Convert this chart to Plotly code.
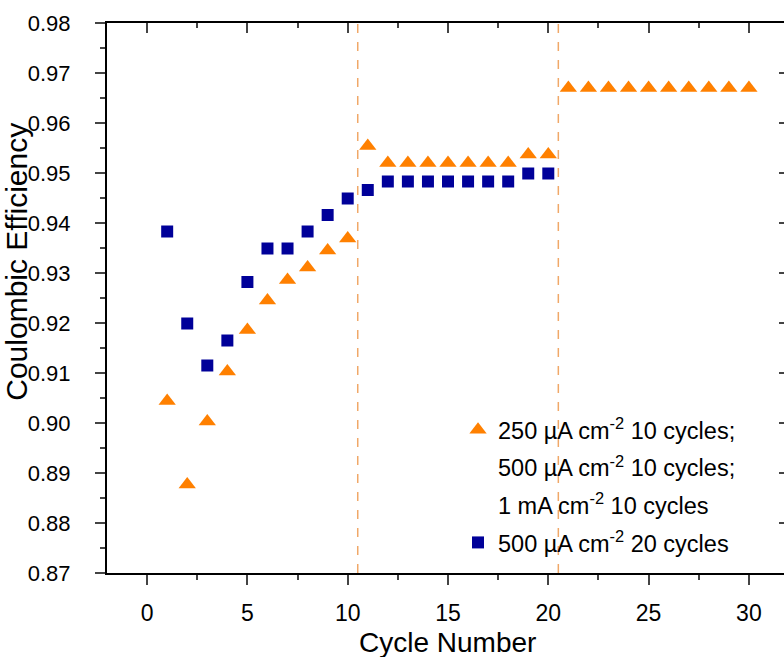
import plotly.graph_objects as go

cycles_a = list(range(1, 31))
ce_a = [0.9044, 0.8877, 0.9003, 0.9103, 0.9186, 0.9245, 0.9286, 0.9311, 0.9345, 0.9369,
        0.9554, 0.9520, 0.9520, 0.9520, 0.9520, 0.9520, 0.9520, 0.9520, 0.9537, 0.9537,
        0.9670, 0.9670, 0.9670, 0.9670, 0.9670, 0.9670, 0.9670, 0.9670, 0.9670, 0.9670]
cycles_b = list(range(1, 21))
ce_b = [0.9383, 0.9199, 0.9115, 0.9165, 0.9282, 0.9349, 0.9349, 0.9383, 0.9416, 0.9449,
        0.9466, 0.9483, 0.9483, 0.9483, 0.9483, 0.9483, 0.9483, 0.9483, 0.9499, 0.9499]
legend_a = ["250 µA cm<sup>-2</sup> 10 cycles;",
            "500 µA cm<sup>-2</sup> 10 cycles;",
            "1 mA cm<sup>-2</sup> 10 cycles"]
name_b = "500 µA cm<sup>-2</sup> 20 cycles"
dividers = [10.5, 20.5]
x_title = "Cycle Number"
y_title = "Coulombic Efficiency"

FONT = "Arial, Liberation Sans, sans-serif"
ORANGE = "#FF8000"
NAVY = "#000099"

fig = go.Figure()
fig.add_trace(go.Scatter(x=cycles_a, y=ce_a, mode="markers", name=legend_a[0],
                         legendgroup="a0",
                         marker=dict(symbol="triangle-up", size=15, color=ORANGE)))
for i, txt in enumerate(legend_a[1:]):
    fig.add_trace(go.Scatter(x=[None], y=[None], mode="markers", name=txt,
                             legendgroup=f"a{i+1}", hoverinfo="skip",
                             marker=dict(symbol="square", size=1, color="rgba(0,0,0,0)")))
fig.add_trace(go.Scatter(x=cycles_b, y=ce_b, mode="markers", name=name_b, legendgroup="b",
                         marker=dict(symbol="square", size=12, color=NAVY)))

for xv in dividers:
    fig.add_shape(type="line", x0=xv, x1=xv, y0=0, y1=1, xref="x", yref="paper",
                  line=dict(color="#F0A868", width=1.5, dash="dash"))

fig.add_annotation(text=y_title, textangle=-90, xref="paper", yref="paper",
                   x=-0.1329, y=0.566, xanchor="center", yanchor="middle", showarrow=False,
                   font=dict(size=30))
fig.add_annotation(text=x_title, xref="paper", yref="paper",
                   x=0.503, y=-0.1255, xanchor="center", yanchor="middle", showarrow=False,
                   font=dict(size=28))

xr = [-2, 31.75]
yr = [0.87, 0.98]
fig.update_layout(
    width=784, height=657,
    margin=dict(l=107, r=0, t=23, b=84),
    paper_bgcolor="white", plot_bgcolor="white",
    font=dict(family=FONT, size=22, color="black"),
    showlegend=True,
    legend=dict(x=0.5185, y=0.30, xanchor="left", yanchor="top", traceorder="grouped",
                bgcolor="rgba(0,0,0,0)", font=dict(size=23.5), tracegroupgap=4,
                itemclick=False, itemdoubleclick=False),
    xaxis=dict(range=xr, dtick=5, tick0=0, ticks="outside", ticklen=10, tickwidth=2,
               showline=True, linewidth=2, linecolor="black", showgrid=False, zeroline=False,
               automargin=False, ticklabelstandoff=8,
               minor=dict(dtick=2.5, tick0=0, ticks="outside", ticklen=5, tickwidth=2, showgrid=False),
               tickfont=dict(size=23)),
    yaxis=dict(range=yr, dtick=0.01, tick0=0.87, tickformat=".2f", ticks="outside", ticklen=10,
               tickwidth=2, showline=True, linewidth=2, linecolor="black", showgrid=False,
               zeroline=False, automargin=False, ticklabelstandoff=20,
               minor=dict(dtick=0.005, tick0=0.87, ticks="outside", ticklen=5, tickwidth=2, showgrid=False),
               tickfont=dict(size=22)),
    xaxis2=dict(range=xr, overlaying="x", side="top", anchor="y", dtick=5, tick0=0,
                ticks="inside", ticklen=10, tickwidth=2, showticklabels=False, automargin=False,
                showline=True, linewidth=2, linecolor="black", showgrid=False, zeroline=False,
                minor=dict(dtick=2.5, tick0=0, ticks="inside", ticklen=5, tickwidth=2, showgrid=False)),
    yaxis2=dict(range=yr, overlaying="y", side="right", anchor="x", dtick=0.01, tick0=0.87,
                ticks="inside", ticklen=5, tickwidth=2, showticklabels=False, automargin=False,
                showline=True, linewidth=2, linecolor="black", showgrid=False, zeroline=False,
                minor=dict(dtick=0.005, tick0=0.87, ticks="", showgrid=False)),
)
fig.add_trace(go.Scatter(x=[None], y=[None], xaxis="x2", yaxis="y2", showlegend=False,
                         hoverinfo="skip"))
fig.write_html("out.html", config={"displayModeBar": False},
               post_script="document.body.style.margin='0px';document.body.style.overflow='hidden';")
